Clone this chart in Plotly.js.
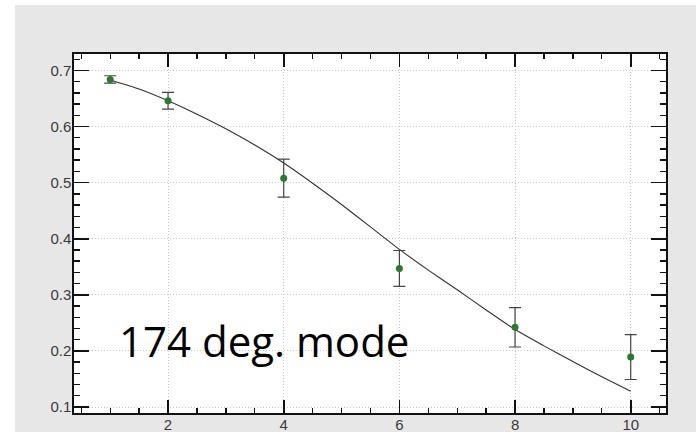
<!DOCTYPE html>
<html>
<head>
<meta charset="utf-8">
<script src="https://cdn.plot.ly/plotly-3.0.1.min.js"></script>
<style>
  html, body { margin: 0; padding: 0; background: #ffffff; }
  #chart { position: absolute; left: 15px; top: 5px; width: 681px; height: 427px; }
</style>
</head>
<body>
<div id="chart"></div>
<script>
// Measured points with symmetric error bars
const measX = [1, 2, 4, 6, 8, 10];
const measY = [0.684, 0.646, 0.508, 0.347, 0.242, 0.189];
const measErr = [0.0065, 0.015, 0.034, 0.032, 0.035, 0.040];

// Fitted model curve
const fitX = [1, 1.5, 2, 2.5, 3, 3.5, 4, 4.5, 5, 5.5, 6, 6.5, 7, 7.5, 8, 8.5, 9, 9.5, 10];
const fitY = [0.683, 0.667, 0.646, 0.622, 0.596, 0.567, 0.535, 0.499, 0.461, 0.421,
              0.381, 0.344, 0.309, 0.273, 0.238, 0.209, 0.181, 0.154, 0.128];

const modeLabel = '174 deg. mode';

const traces = [
  {
    x: fitX, y: fitY, type: 'scatter', mode: 'lines',
    line: { color: '#333333', width: 1.1, shape: 'spline', smoothing: 0.6 },
    hoverinfo: 'skip'
  },
  {
    x: measX, y: measY, type: 'scatter', mode: 'markers',
    marker: { color: '#2b7a2b', size: 7 },
    error_y: { type: 'data', array: measErr, visible: true,
               color: '#444444', thickness: 1.2, width: 6 }
  }
];

const axisCommon = {
  showline: true, linecolor: '#111111', linewidth: 1.6,
  mirror: 'allticks', ticks: 'inside', tickcolor: '#111111', tickwidth: 1.6,
  showgrid: true, gridcolor: '#c8c8c8', griddash: '1px,2px', gridwidth: 1,
  zeroline: false,
  tickfont: { family: 'Liberation Sans, Arial, sans-serif', size: 15, color: '#3a3a3a' }
};

const layout = {
  width: 681, height: 427,
  paper_bgcolor: '#e7e7e7', plot_bgcolor: '#ffffff',
  margin: { l: 59, r: 30, t: 49, b: 19 },
  showlegend: false,
  xaxis: Object.assign({}, axisCommon, {
    range: [0.374, 10.61], tick0: 0, dtick: 2, ticklen: 13, ticklabelstandoff: -3,
    minor: { dtick: 0.5, tick0: 0, ticks: 'inside', ticklen: 5, tickcolor: '#111111', tickwidth: 1.4, showgrid: false }
  }),
  yaxis: Object.assign({}, axisCommon, {
    range: [0.0893, 0.7293], tick0: 0, dtick: 0.1, ticklen: 15, ticklabelstandoff: -2,
    minor: { dtick: 0.02, tick0: 0, ticks: 'inside', ticklen: 6, tickcolor: '#111111', tickwidth: 1.4, showgrid: false }
  }),
  annotations: [{
    text: modeLabel, xref: 'x', yref: 'y', x: 1.11, y: 0.219,
    xanchor: 'left', yanchor: 'middle', showarrow: false,
    font: { family: 'Open Sans, sans-serif', size: 42, color: '#000000' }
  }]
};

Plotly.newPlot('chart', traces, layout, { displayModeBar: false, staticPlot: true });
</script>
</body>
</html>
